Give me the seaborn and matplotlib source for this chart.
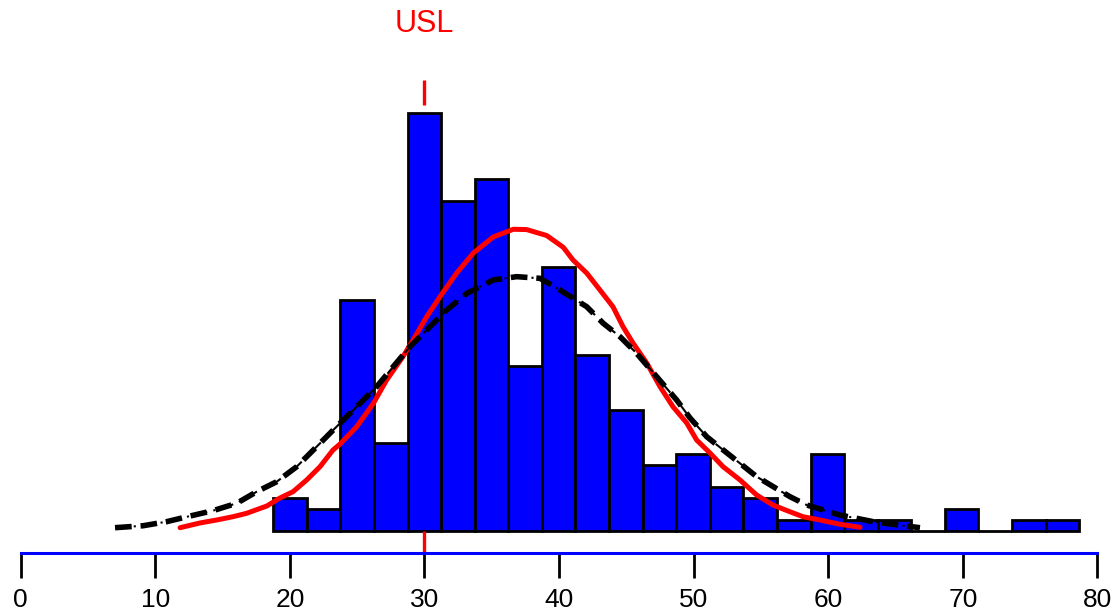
import numpy as np
import pandas as pd
import matplotlib
matplotlib.use("Agg")
import matplotlib.pyplot as plt
import seaborn as sns

# histogram bins and counts
bin_start = 18.76
bin_width = 2.495
counts = [3, 2, 21, 8, 38, 30, 32, 15, 24, 16, 11, 6, 7, 4, 3, 1, 7, 1, 1, 0, 2, 0, 1, 1]

# upper spec limit
usl = 30

# red curve (density estimate), in count units
dens_x = [11.84, 13.32, 14.56, 15.77, 16.79, 18.28, 19.26, 20.23, 21.25, 22.24, 23.20, 23.72,
          24.96, 26.20, 27.19, 28.40, 29.15, 30.16, 31.15, 32.39, 33.63, 35.11, 36.60, 37.59,
          39.08, 40.31, 41.03, 42.05, 43.04, 44.00, 44.75, 45.49, 46.51, 47.50, 48.46, 49.48,
          50.22, 51.21, 52.18, 53.44, 54.68, 55.89, 57.15, 58.12, 59.38, 60.87, 62.36]
dens_y = [0.30, 0.73, 1.00, 1.30, 1.61, 2.27, 3.00, 3.57, 4.64, 5.85, 7.36, 7.90,
          9.48, 11.60, 13.73, 15.85, 17.36, 19.48, 21.30, 23.45, 25.27, 26.73, 27.43, 27.40,
          26.86, 25.79, 24.64, 23.45, 21.90, 20.39, 18.57, 17.09, 15.27, 13.12, 11.30, 9.82,
          8.27, 7.09, 5.85, 4.64, 3.27, 2.36, 1.75, 1.30, 1.00, 0.61, 0.34]

# black curves (normal fits), in count units
fit_x = [7.01, 9.11, 10.85, 12.58, 14.29, 16.05, 17.53, 19.02, 20.51, 21.74, 23.22, 25.21,
         26.45, 27.68, 28.92, 30.16, 31.65, 33.14, 35.11, 36.85, 38.58, 40.07, 42.05, 43.28,
         44.53, 45.76, 47.25, 48.74, 49.73, 50.97, 52.20, 53.44, 54.68, 55.91, 57.15, 58.40,
         59.63, 60.87, 62.11, 63.34, 64.58, 65.82, 66.81]
fit_y = [0.30, 0.48, 0.85, 1.36, 1.85, 2.52, 3.57, 4.48, 5.85, 7.36, 9.18, 11.60,
         13.12, 14.94, 16.75, 18.27, 20.09, 21.60, 22.82, 23.12, 22.97, 21.90, 20.39, 18.88,
         17.66, 16.15, 14.03, 11.90, 10.27, 8.57, 7.36, 6.15, 4.94, 4.03, 3.12, 2.36,
         1.91, 1.45, 1.15, 0.85, 0.64, 0.45, 0.30]

n_bins = len(counts)
centers = bin_start + bin_width * (np.arange(n_bins) + 0.5)
df = pd.DataFrame({"x": centers, "n": counts})

sns.set_theme(style="white")
plt.rcParams["font.family"] = ["Liberation Sans", "DejaVu Sans"]

fig = plt.figure(figsize=(11.17, 6.16), dpi=100)
ax = fig.add_axes([0, 0, 1, 1])

sns.histplot(data=df, x="x", weights="n", binwidth=bin_width,
             binrange=(bin_start, bin_start + bin_width * n_bins),
             color="#0000ff", edgecolor="black", linewidth=2, alpha=1, ax=ax)

sns.lineplot(x=dens_x, y=dens_y, color="red", linewidth=3.6, ax=ax)

sns.lineplot(x=fit_x, y=fit_y, color="black", linewidth=4, ax=ax)
ax.lines[-1].set_dashes((3.0, 1.6))
sns.lineplot(x=fit_x, y=fit_y, color="black", linewidth=1.5, ax=ax)
ax.lines[-1].set_dashes((6, 3, 1, 3))

# USL marker
ax.vlines(usl, 38.7, 41.0, color="red", linewidth=2.4)
ax.vlines(usl, -2.0, 0, color="red", linewidth=2.4)
ax.text(usl, 46.1, "USL", color="red", fontsize=22, ha="center", va="center")

ax.set_xlim(-1.538, 81.45)
ax.set_ylim(-7.727, 48.27)
ax.set_xlabel("")
ax.set_ylabel("")
ax.set_yticks([])
ax.set_xticks(range(0, 81, 10))
ax.grid(False)

for s in ["top", "left", "right"]:
    ax.spines[s].set_visible(False)
ax.spines["bottom"].set_position(("data", -2.0))
ax.spines["bottom"].set_bounds(0, 80)
ax.spines["bottom"].set_color("#0000ff")
ax.spines["bottom"].set_linewidth(2.2)
ax.tick_params(axis="x", direction="out", length=18, width=2, color="black",
               labelcolor="black", labelsize=19, pad=7, bottom=True)

fig.savefig("out.png", dpi=100)
